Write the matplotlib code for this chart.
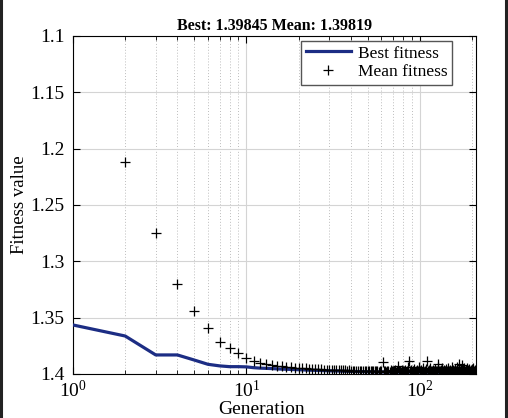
import numpy as np
import matplotlib
matplotlib.use("Agg")
import matplotlib.pyplot as plt
from matplotlib.lines import Line2D
from matplotlib.ticker import LogLocator, LogFormatterMathtext, NullFormatter

plt.rcParams['font.family'] = ['Liberation Serif', 'DejaVu Serif']
plt.rcParams['mathtext.fontset'] = 'stix'

# best fitness per generation (1..210)
best_fitness = [
    1.3565, 1.3663, 1.3831, 1.3831, 1.3876, 1.3914, 1.3928, 1.3935, 1.3935, 1.3937,
    1.3944, 1.3948, 1.3950, 1.3952, 1.3955, 1.3957, 1.3958, 1.3960, 1.3961, 1.3962,
    1.3964, 1.3965, 1.3966, 1.3967, 1.3968, 1.3968, 1.3969, 1.3970, 1.3971, 1.3972,
    1.3972, 1.3973, 1.3973, 1.3974, 1.3975, 1.3975, 1.3976, 1.3976, 1.3977, 1.3977,
    1.3977, 1.3978, 1.3978, 1.3978, 1.3979, 1.3979, 1.3979, 1.3980, 1.3980, 1.3980,
    1.3980, 1.3981, 1.3981, 1.3981, 1.3981, 1.3982, 1.3982, 1.3982, 1.3982, 1.3982,
    1.3982, 1.3982, 1.3983, 1.3983, 1.3983, 1.3983, 1.3983, 1.3983, 1.3983, 1.3983,
    1.3983, 1.3983, 1.3983, 1.3983, 1.3983, 1.3983, 1.3983, 1.3983, 1.3983, 1.3983,
    1.3983, 1.3983, 1.3983, 1.3983, 1.3983, 1.3983, 1.3983, 1.3983, 1.3983, 1.3983,
    1.3983, 1.3983, 1.3983, 1.3983, 1.3983, 1.3983, 1.3983, 1.3983, 1.3983, 1.3983,
    1.3983, 1.3983, 1.3983, 1.3983, 1.3983, 1.3983, 1.3983, 1.3983, 1.3983, 1.3983,
    1.3984, 1.3984, 1.3984, 1.3984, 1.3984, 1.3984, 1.3984, 1.3984, 1.3984, 1.3984,
    1.3984, 1.3984, 1.3984, 1.3984, 1.3984, 1.3984, 1.3984, 1.3984, 1.3984, 1.3984,
    1.3984, 1.3984, 1.3984, 1.3984, 1.3984, 1.3984, 1.3984, 1.3984, 1.3984, 1.3984,
    1.3984, 1.3984, 1.3984, 1.3984, 1.3984, 1.3984, 1.3984, 1.3984, 1.3984, 1.3984,
    1.3984, 1.3984, 1.3984, 1.3984, 1.3984, 1.3984, 1.3984, 1.3984, 1.3984, 1.3984,
    1.3984, 1.3984, 1.3984, 1.3984, 1.3984, 1.3984, 1.3984, 1.3984, 1.3984, 1.3984,
    1.3984, 1.3984, 1.3984, 1.3984, 1.3984, 1.3984, 1.3984, 1.3984, 1.3984, 1.3984,
    1.3984, 1.3984, 1.3984, 1.3984, 1.3984, 1.3984, 1.3984, 1.3984, 1.3984, 1.3984,
    1.3984, 1.3984, 1.3984, 1.3984, 1.3984, 1.3984, 1.3984, 1.3984, 1.3984, 1.39845,
    1.39845, 1.39845, 1.39845, 1.39845, 1.39845, 1.39845, 1.39845, 1.39845, 1.39845, 1.39845,
]

# mean fitness per generation (1..210)
mean_fitness = [
    1.0200, 1.2118, 1.2749, 1.3204, 1.3439, 1.3594, 1.3713, 1.3772, 1.3811, 1.3855,
    1.3885, 1.3902, 1.3912, 1.3920, 1.3926, 1.3931, 1.3936, 1.3940, 1.3943, 1.3946,
    1.3949, 1.3951, 1.3953, 1.3955, 1.3957, 1.3958, 1.3960, 1.3961, 1.3962, 1.3963,
    1.3964, 1.3966, 1.3965, 1.3967, 1.3968, 1.3967, 1.3969, 1.3970, 1.3969, 1.3971,
    1.3972, 1.3971, 1.3973, 1.3972, 1.3974, 1.3973, 1.3975, 1.3974, 1.3975, 1.3976,
    1.3975, 1.3977, 1.3974, 1.3976, 1.3977, 1.3973, 1.3976, 1.3978, 1.3975, 1.3977,
    1.3890, 1.3976, 1.3972, 1.3978, 1.3970, 1.3975, 1.3979, 1.3968, 1.3976, 1.3974,
    1.3977, 1.3965, 1.3978, 1.3975, 1.3930, 1.3977, 1.3972, 1.3979, 1.3969, 1.3976,
    1.3974, 1.3962, 1.3978, 1.3975, 1.3971, 1.3940, 1.3888, 1.3976, 1.3967, 1.3979,
    1.3973, 1.3977, 1.3960, 1.3978, 1.3975, 1.3968, 1.3979, 1.3972, 1.3935, 1.3977,
    1.3974, 1.3966, 1.3979, 1.3976, 1.3950, 1.3978, 1.3971, 1.3977, 1.3960, 1.3889,
    1.3978, 1.3973, 1.3968, 1.3979, 1.3945, 1.3976, 1.3972, 1.3978, 1.3963, 1.3977,
    1.3970, 1.3979, 1.3955, 1.3976, 1.3974, 1.3978, 1.3940, 1.3908, 1.3977, 1.3972,
    1.3979, 1.3965, 1.3976, 1.3978, 1.3950, 1.3974, 1.3979, 1.3968, 1.3977, 1.3973,
    1.3958, 1.3978, 1.3975, 1.3979, 1.3946, 1.3977, 1.3970, 1.3979, 1.3962, 1.3976,
    1.3978, 1.3973, 1.3942, 1.3979, 1.3975, 1.3966, 1.3978, 1.3977, 1.3955, 1.3979,
    1.3974, 1.3978, 1.3964, 1.3979, 1.3935, 1.3976, 1.3978, 1.3910, 1.3977, 1.3972,
    1.3979, 1.3960, 1.3978, 1.3975, 1.3920, 1.3977, 1.3979, 1.3968, 1.3978, 1.3950,
    1.3979, 1.3973, 1.3978, 1.3962, 1.3979, 1.3976, 1.3945, 1.3979, 1.3977, 1.3966,
    1.3979, 1.3978, 1.3955, 1.3979, 1.3974, 1.3978, 1.3968, 1.3979, 1.3960, 1.3977,
    1.3979, 1.3972, 1.3978, 1.3950, 1.3979, 1.3976, 1.3979, 1.3965, 1.3979, 1.3982,
]

generations = np.arange(1, len(best_fitness) + 1)
y_ticks = [1.1, 1.15, 1.2, 1.25, 1.3, 1.35, 1.4]
y_tick_labels = ['1.1', '1.15', '1.2', '1.25', '1.3', '1.35', '1.4']
title = 'Best: 1.39845 Mean: 1.39819'

fig = plt.figure(figsize=(5.08, 4.18), dpi=100)
ax = fig.add_axes([0.1437, 0.1053, 0.7933, 0.8086])

ax.plot(generations, best_fitness, color='#1c2d84', lw=2.3, label='Best fitness', zorder=3)
ax.plot(generations, mean_fitness, ls='none', marker='+', ms=6.5, mew=0.9,
        color='black', label='Mean fitness', zorder=4)

ax.set_xscale('log')
ax.set_xlim(1, len(best_fitness) + 1)
ax.set_ylim(1.4, 1.1)
ax.set_yticks(y_ticks)
ax.set_yticklabels(y_tick_labels)
ax.xaxis.set_major_locator(LogLocator(base=10))
ax.xaxis.set_major_formatter(LogFormatterMathtext())
ax.xaxis.set_minor_locator(LogLocator(base=10, subs=np.arange(2, 10)))
ax.xaxis.set_minor_formatter(NullFormatter())

ax.grid(True, which='major', color='#d4d4d4', lw=0.8, ls='-')
ax.grid(True, which='minor', axis='x', color='#bdbdbd', lw=0.7, ls=(0, (1, 2)))
ax.set_axisbelow(True)

ax.tick_params(which='both', direction='in', top=True, right=True, labelsize=14)
ax.tick_params(axis='y', pad=6)
ax.tick_params(axis='x', pad=4)
ax.tick_params(which='major', length=5)
ax.tick_params(which='minor', length=3)
for s in ax.spines.values():
    s.set_linewidth(0.8)

ax.set_title(title, fontsize=11.5, fontweight='bold', pad=4)
ax.set_xlabel('Generation', fontsize=14)
ax.xaxis.set_label_coords(0.469, -0.08, transform=ax.transAxes)
ax.xaxis.label.set_va('top')
ax.set_ylabel('Fitness value', fontsize=13.5, labelpad=2)

ax.legend(loc='upper right', bbox_to_anchor=(0.94, 0.985), fontsize=12.5,
          fancybox=False, framealpha=1, edgecolor='#555555', handlelength=2.6,
          borderpad=0.25, labelspacing=0.15, handletextpad=0.4, borderaxespad=0)

# side borders of the original screenshot
fig.add_artist(Line2D([0.002, 0.002], [0, 1], color='#222222', lw=2.2))
fig.add_artist(Line2D([0.996, 0.996], [0, 1], color='#222222', lw=2.2))

fig.savefig('out.png', dpi=100)
